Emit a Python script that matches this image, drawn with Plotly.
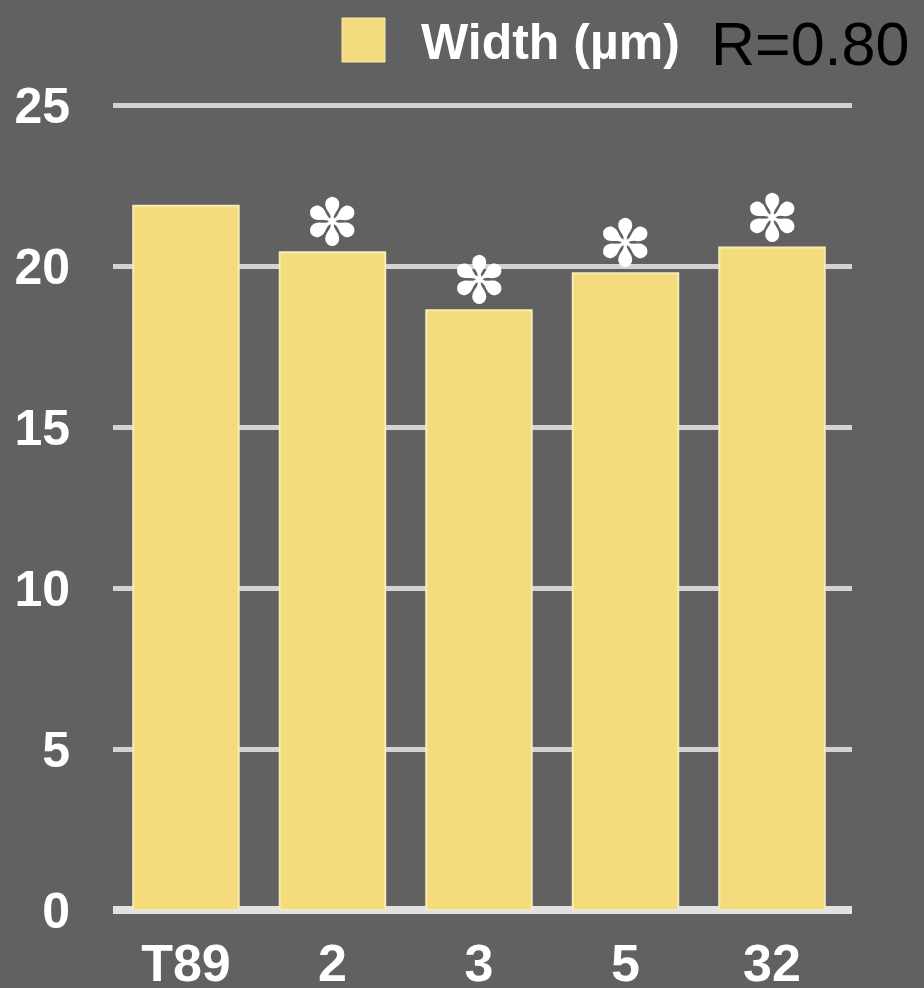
import plotly.graph_objects as go

# data
strains = ["T89", "2", "3", "5", "32"]
width_um = [21.9, 20.45, 18.65, 19.8, 20.6]
significant = [False, True, True, True, True]  # asterisk above bar
y_ticks = [0, 5, 10, 15, 20, 25]
legend_label = "Width (µm)"
r_label = "R=0.80"

BG = "#616161"
BAR = "#f4dc7c"
GRID = "#d3d3d3"
BOLD_FONT = "Liberation Sans, Arial, sans-serif"

W, H = 924, 988
L, R, T, B = 113, 72, 104, 78


def px_to_paper(x, y):
    # helper for the hand drawn legend (pixel -> paper fraction)
    return (x - L) / (W - L - R), (H - B - y) / (H - T - B)


fig = go.Figure()

fig.add_trace(go.Bar(
    x=strains,
    y=width_um,
    width=0.72,
    marker=dict(color=BAR, line=dict(color="#f8ebb4", width=2)),
    showlegend=False,
))

# asterisks for the significant strains, nudged down to sit on the bar tops
# (category index used for x since the names look like numbers)
for i, (val, sig) in enumerate(zip(width_um, significant)):
    if sig:
        fig.add_annotation(x=i, y=val, xref="x", yref="y", text="✽",
                           showarrow=False, yanchor="bottom", yshift=-10,
                           font=dict(family="DejaVu Sans", size=65, color="white"))

# legend swatch + label drawn by hand so the swatch can be large
x0, y0 = px_to_paper(342, 62)
x1, y1 = px_to_paper(385, 18)
fig.add_shape(type="rect", xref="paper", yref="paper", x0=x0, y0=y0, x1=x1, y1=y1,
              fillcolor=BAR, line=dict(color="#f8ebb4", width=1), layer="above")

lx, ly = px_to_paper(419, 42)
fig.add_annotation(x=lx, y=ly, xref="paper", yref="paper", text=legend_label,
                   showarrow=False, xanchor="left", yanchor="middle",
                   font=dict(family=BOLD_FONT, size=50, color="white", weight="bold"))

rx, ry = px_to_paper(709, 44)
fig.add_annotation(x=rx, y=ry, xref="paper", yref="paper", text=r_label,
                   showarrow=False, xanchor="left", yanchor="middle",
                   font=dict(family="Liberation Sans, Arial, sans-serif", size=61, color="black"))

fig.update_layout(
    width=W,
    height=H,
    margin=dict(l=L, r=R, t=T, b=B),
    paper_bgcolor=BG,
    plot_bgcolor=BG,
    showlegend=False,
    xaxis=dict(
        type="category",
        range=[-0.498, 4.546],
        automargin=False,
        showgrid=False,
        showline=False,
        zeroline=False,
        ticks="",
        ticklabelstandoff=18,
        tickfont=dict(family=BOLD_FONT, size=52, color="white", weight="bold"),
    ),
    yaxis=dict(
        range=[0, 25.062],
        automargin=False,
        tickvals=y_ticks,
        showgrid=True,
        gridcolor=GRID,
        gridwidth=5,
        zeroline=True,
        zerolinecolor="#e2e2e2",
        zerolinewidth=8,
        showline=False,
        ticks="",
        ticklabelstandoff=42,
        tickfont=dict(family=BOLD_FONT, size=50, color="white", weight="bold"),
    ),
)

fig.write_html("out.html", config={"displayModeBar": False},
               post_script="document.body.style.margin='0';")
